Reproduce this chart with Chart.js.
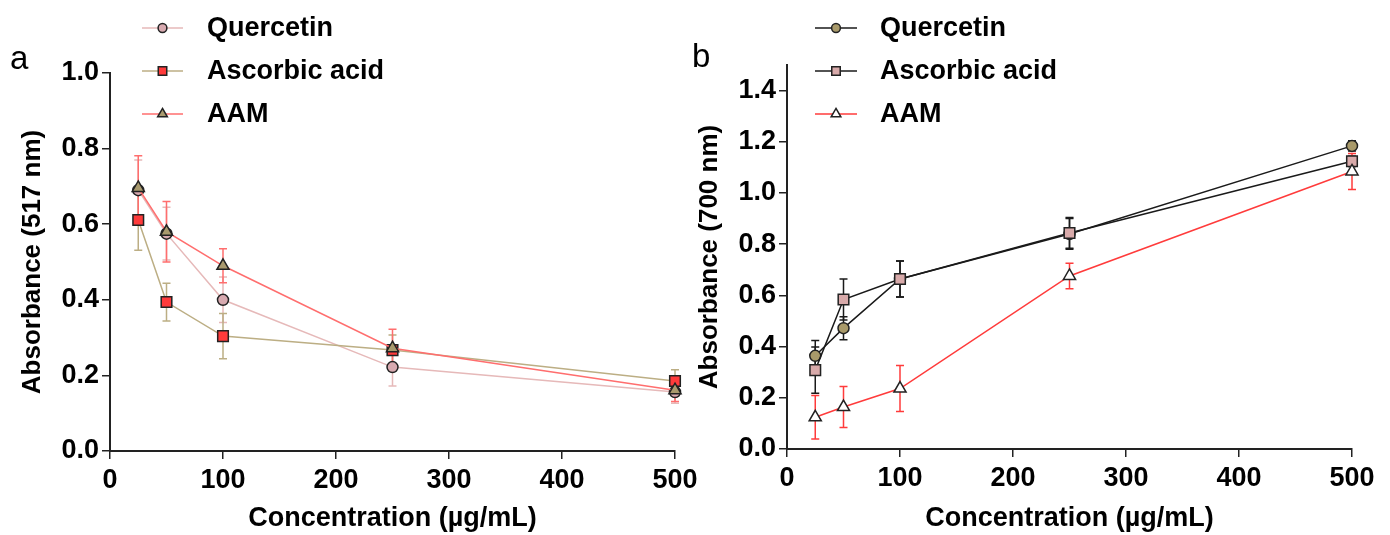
<!DOCTYPE html>
<html>
<head>
<meta charset="utf-8">
<script src="https://cdn.jsdelivr.net/npm/chart.js@4"></script>
<style>
html, body { margin: 0; padding: 0; background: #fff; }
#wrap { position: relative; width: 1390px; height: 535px; overflow: hidden; }
canvas { position: absolute; top: 0; }
</style>
</head>
<body>
<div id="wrap">
  <canvas id="chartA" width="720" height="535" style="left:0"></canvas>
  <canvas id="chartB" width="700" height="535" style="left:690px"></canvas>
</div>
<script>
// concentrations (µg/mL)
const conc = [25, 50, 100, 250, 500];
const xTicks = [0, 100, 200, 300, 400, 500];
const seriesNames = ['Quercetin', 'Ascorbic acid', 'AAM'];

// panel a - absorbance at 517 nm
const aQuercetin = [0.69, 0.575, 0.40, 0.222, 0.156];
const aQuercetinErr = [0.08, 0.07, 0.06, 0.05, 0.03];
const aAscorbic = [0.611, 0.394, 0.304, 0.267, 0.185];
const aAscorbicErr = [0.08, 0.05, 0.06, 0.04, 0.03];
const aAAM = [0.696, 0.58, 0.49, 0.272, 0.161];
const aAAMErr = [0.085, 0.08, 0.045, 0.05, 0.03];
const aYTicks = [0, 0.2, 0.4, 0.6, 0.8, 1.0];

// panel b - absorbance at 700 nm
const bQuercetin = [0.364, 0.472, 0.664, 0.84, 1.184];
const bQuercetinErr = [0.06, 0.045, 0.07, 0.06, 0.02];
const bAscorbic = [0.308, 0.584, 0.664, 0.844, 1.124];
const bAscorbicErr = [0.09, 0.08, 0.07, 0.06, 0.02];
const bAAM = [0.124, 0.164, 0.236, 0.676, 1.084];
const bAAMErr = [0.085, 0.08, 0.09, 0.05, 0.07];
const bYTicks = [0, 0.2, 0.4, 0.6, 0.8, 1.0, 1.2, 1.4];

const FONT = 'Liberation Sans, Arial, Helvetica, sans-serif';
const boldFont = { family: FONT, size: 27, weight: 'bold' };

function pts(ys) { return conc.map((c, i) => ({ x: c, y: ys[i] })); }

function series(label, ys, errs, line, fill, style, radius, order) {
  return {
    label: label,
    data: pts(ys),
    errors: errs,
    errorColor: line,
    borderColor: line,
    borderWidth: 1.5,
    pointStyle: style,
    pointRadius: radius,
    pointBackgroundColor: fill,
    pointBorderColor: '#222',
    pointBorderWidth: 1.5,
    tension: 0,
    clip: false,
    order: order
  };
}

// draw error bars through the chart's own scales
const errorBars = {
  id: 'errorBars',
  beforeDatasetsDraw(chart) {
    const { ctx, scales: { x, y } } = chart;
    chart.data.datasets.forEach(ds => {
      ctx.save();
      ctx.strokeStyle = ds.errorColor;
      ctx.lineWidth = 1.5;
      ds.data.forEach((p, i) => {
        const e = ds.errors[i];
        const px = x.getPixelForValue(p.x);
        const top = y.getPixelForValue(p.y + e);
        const bot = y.getPixelForValue(p.y - e);
        ctx.beginPath();
        ctx.moveTo(px, top); ctx.lineTo(px, bot);
        ctx.moveTo(px - 4, top); ctx.lineTo(px + 4, top);
        ctx.moveTo(px - 4, bot); ctx.lineTo(px + 4, bot);
        ctx.stroke();
      });
      ctx.restore();
    });
  }
};

// legend in the top left corner plus the panel letter
function panelDecor(letter, lx, ly, leg) {
  return {
    id: 'panelDecor',
    afterDraw(chart) {
      const ctx = chart.ctx;
      ctx.save();
      ctx.fillStyle = '#000';
      ctx.font = '33px ' + FONT;
      ctx.textBaseline = 'alphabetic';
      ctx.fillText(letter, lx, ly);
      // datasets are stored in legend order
      chart.data.datasets.forEach((ds, i) => {
        const y = leg.y0 + i * leg.dy;
        ctx.strokeStyle = ds.borderColor;
        ctx.lineWidth = 1.5;
        ctx.beginPath();
        ctx.moveTo(leg.x0, y); ctx.lineTo(leg.x1, y);
        ctx.stroke();
        ctx.fillStyle = ds.pointBackgroundColor;
        ctx.strokeStyle = ds.pointBorderColor;
        Chart.helpers.drawPoint(ctx, {
          pointStyle: ds.pointStyle, rotation: 0,
          radius: ds.pointRadius * 0.8, borderWidth: 1.5
        }, (leg.x0 + leg.x1) / 2, y);
        ctx.fillStyle = '#000';
        ctx.font = 'bold 27px ' + FONT;
        ctx.textBaseline = 'middle';
        ctx.fillText(ds.label, leg.tx, y + 1);
      });
      ctx.restore();
    }
  };
}

function makeOptions(cfg) {
  return {
    responsive: false,
    animation: false,
    devicePixelRatio: 1,
    layout: { padding: { left: 0, right: cfg.padRight, top: cfg.padTop, bottom: 0 } },
    plugins: { legend: { display: false }, tooltip: { enabled: false } },
    scales: {
      x: {
        type: 'linear', min: 0, max: 500,
        afterBuildTicks: s => { s.ticks = xTicks.map(v => ({ value: v })); },
        grid: { drawOnChartArea: false, tickLength: 8, color: '#222', lineWidth: 1.5 },
        border: { color: '#222', width: 2 },
        ticks: { font: boldFont, color: '#000', padding: 5, maxRotation: 0 },
        title: { display: true, text: 'Concentration (µg/mL)', font: boldFont, color: '#000', padding: { top: 0, bottom: 0 } },
        afterFit: s => { s.height = cfg.xHeight; s.paddingLeft = 0; s.paddingRight = 0; }
      },
      y: {
        type: 'linear', min: 0, max: cfg.yMax,
        afterBuildTicks: s => { s.ticks = cfg.yTicks.map(v => ({ value: v })); },
        grid: { drawOnChartArea: false, tickLength: 8, color: '#222', lineWidth: 1.5 },
        border: { color: '#222', width: 2 },
        ticks: { font: boldFont, color: '#000', padding: 3, callback: v => v.toFixed(1) },
        title: { display: true, text: cfg.yTitle, font: { family: FONT, size: 26, weight: 'bold' }, color: '#000', padding: { top: cfg.yTitlePad, bottom: 0 } },
        afterFit: s => { s.width = cfg.yWidth; }
      }
    }
  };
}

new Chart(document.getElementById('chartA'), {
  type: 'line',
  data: {
    datasets: [
      series(seriesNames[0], aQuercetin, aQuercetinErr, '#e6b9b9', '#d8aab0', 'circle', 5.5, 2),
      series(seriesNames[1], aAscorbic, aAscorbicErr, '#bcae84', '#ff3b3b', 'rect', 7.5, 1),
      series(seriesNames[2], aAAM, aAAMErr, '#ff6e6e', '#a99a6e', 'triangle', 7, 0)
    ]
  },
  options: makeOptions({
    padRight: 45, padTop: 73, xHeight: 84, yWidth: 110, yMax: 1.0,
    yTicks: aYTicks, yTitle: 'Absorbance (517 nm)', yTitlePad: 17
  }),
  plugins: [errorBars, panelDecor('a', 10, 69, { x0: 142, x1: 183, y0: 28, dy: 43, tx: 207 })]
});

new Chart(document.getElementById('chartB'), {
  type: 'line',
  data: {
    datasets: [
      series(seriesNames[0], bQuercetin, bQuercetinErr, '#1a1a1a', '#a99a6a', 'circle', 5.5, 2),
      series(seriesNames[1], bAscorbic, bAscorbicErr, '#1a1a1a', '#d8aaaa', 'rect', 7.5, 1),
      series(seriesNames[2], bAAM, bAAMErr, '#ff3b3b', '#ffffff', 'triangle', 7, 0)
    ]
  },
  options: makeOptions({
    padRight: 38, padTop: 65, xHeight: 86, yWidth: 97, yMax: 1.5,
    yTicks: bYTicks, yTitle: 'Absorbance (700 nm)', yTitlePad: 4
  }),
  plugins: [errorBars, panelDecor('b', 2, 67, { x0: 125, x1: 167, y0: 28, dy: 43, tx: 190 })]
});
</script>
</body>
</html>
